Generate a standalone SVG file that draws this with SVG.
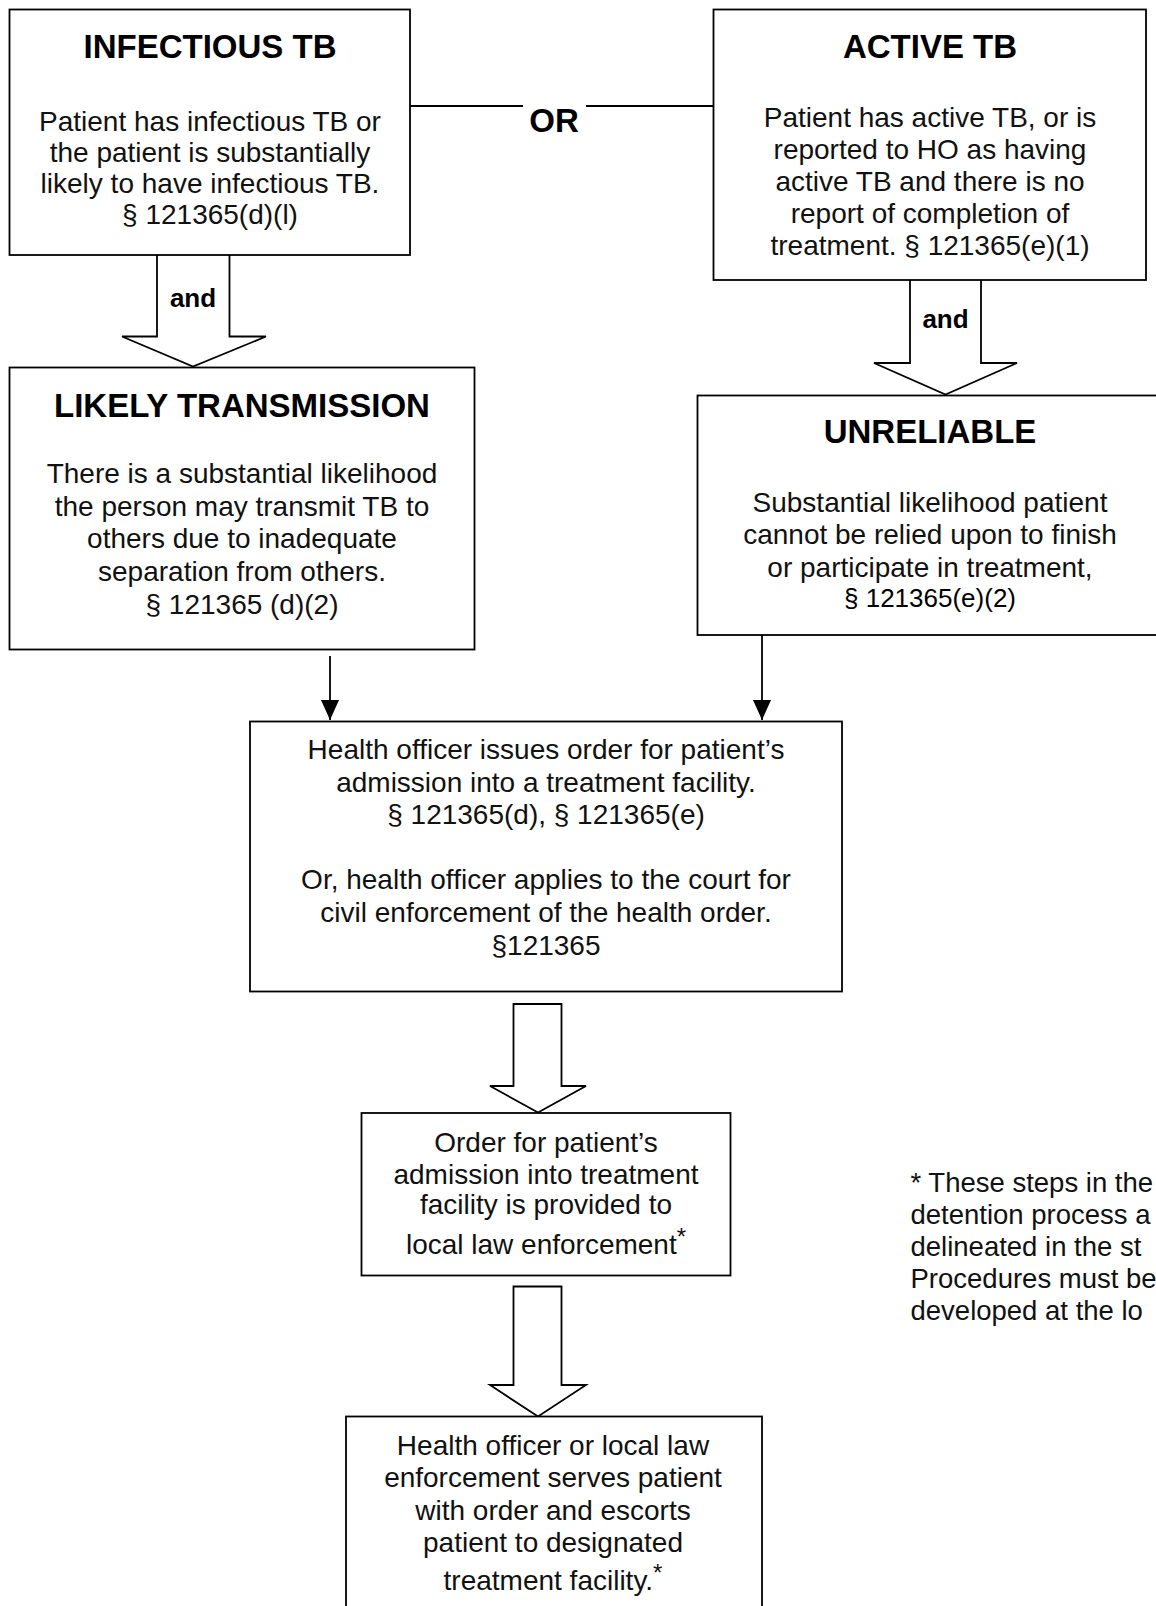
<svg xmlns="http://www.w3.org/2000/svg" width="1156" height="1606" viewBox="0 0 1156 1606">
<style>
.box{fill:#fff;stroke:#000;stroke-width:1.8}
.title{font-family:"Liberation Sans",Arial,sans-serif;font-weight:bold;font-size:33px;text-anchor:middle;fill:#000}
.body{font-family:"Liberation Sans",Arial,sans-serif;font-size:28px;text-anchor:middle;fill:#111}
.lbl{font-family:"Liberation Sans",Arial,sans-serif;font-weight:bold;font-size:26px;text-anchor:middle;fill:#000}
.note{font-family:"Liberation Sans",Arial,sans-serif;font-size:27.5px;fill:#111}
.line{fill:none;stroke:#000;stroke-width:1.8}
.big{fill:#fff;stroke:#000;stroke-width:1.8;stroke-linejoin:miter}
.sup{font-size:24px}
</style>
<defs>
<marker id="ah" markerUnits="userSpaceOnUse" markerWidth="22" markerHeight="18" refX="20" refY="9" orient="auto">
<path d="M0,0 L20,9 L0,18 Z" fill="#000"/>
</marker>
</defs>
<rect width="1156" height="1606" fill="#fff"/>

<g id="connectors">
<path class="line" d="M410,106 H523"/>
<path class="line" d="M586,106 H713.5"/>
<text class="title" x="554" y="132">OR</text>
<path class="big" d="M157,255 V336.5 H122 L193,366.5 L266,336.5 H229.5 V255"/>
<text class="lbl" x="193" y="307">and</text>
<path class="big" d="M910,280 V363 H874 L945.5,394.5 L1017,363 H981 V280"/>
<text class="lbl" x="945.5" y="328">and</text>
<path class="line" d="M330,656 V720" marker-end="url(#ah)"/>
<path class="line" d="M762,635 V720" marker-end="url(#ah)"/>
<path class="big" d="M513.5,1004 V1086 H490 L538,1112.5 L586,1086 H561.5 V1004 Z"/>
<path class="big" d="M513.5,1286.5 V1385 H490 L538,1416.5 L586,1385 H561.5 V1286.5 Z"/>
</g>

<g id="infectious">
<rect class="box" x="9.5" y="9.5" width="400.5" height="245.5"/>
<text class="title" x="210" y="58">INFECTIOUS TB</text>
<text class="body" x="210" y="131">Patient has infectious TB or</text>
<text class="body" x="210" y="162">the patient is substantially</text>
<text class="body" x="210" y="193">likely to have infectious TB.</text>
<text class="body" x="210" y="224">§ 121365(d)(l)</text>
</g>

<g id="active">
<rect class="box" x="713.5" y="9.5" width="432.5" height="270.5"/>
<text class="title" x="930" y="58">ACTIVE TB</text>
<text class="body" x="930" y="127">Patient has active TB, or is</text>
<text class="body" x="930" y="159">reported to HO as having</text>
<text class="body" x="930" y="191">active TB and there is no</text>
<text class="body" x="930" y="223">report of completion of</text>
<text class="body" x="930" y="255">treatment. § 121365(e)(1)</text>
</g>

<g id="likely">
<rect class="box" x="9.5" y="367.5" width="465" height="282"/>
<text class="title" x="242" y="417">LIKELY TRANSMISSION</text>
<text class="body" x="242" y="483">There is a substantial likelihood</text>
<text class="body" x="242" y="516">the person may transmit TB to</text>
<text class="body" x="242" y="548">others due to inadequate</text>
<text class="body" x="242" y="581">separation from others.</text>
<text class="body" x="242" y="614">§ 121365 (d)(2)</text>
</g>

<g id="unreliable">
<rect class="box" x="697.5" y="395.5" width="466" height="239.5"/>
<text class="title" x="930" y="443">UNRELIABLE</text>
<text class="body" x="930" y="512">Substantial likelihood patient</text>
<text class="body" x="930" y="544">cannot be relied upon to finish</text>
<text class="body" x="930" y="576.5">or participate in treatment,</text>
<text class="body" x="930" y="606.5" style="font-size:26px;fill:#000">§ 121365(e)(2)</text>
</g>

<g id="health-order">
<rect class="box" x="250" y="721.5" width="592" height="270"/>
<text class="body" x="546" y="759">Health officer issues order for patient’s</text>
<text class="body" x="546" y="791.5">admission into a treatment facility.</text>
<text class="body" x="546" y="824">§ 121365(d), § 121365(e)</text>
<text class="body" x="546" y="889">Or, health officer applies to the court for</text>
<text class="body" x="546" y="921.5">civil enforcement of the health order.</text>
<text class="body" x="546" y="954.5">§121365</text>
</g>

<g id="order-provided">
<rect class="box" x="361.5" y="1113" width="369" height="162.5"/>
<text class="body" x="546" y="1152">Order for patient’s</text>
<text class="body" x="546" y="1184">admission into treatment</text>
<text class="body" x="546" y="1214">facility is provided to</text>
<text class="body" x="546" y="1254">local law enforcement<tspan class="sup" dy="-9">*</tspan></text>
</g>

<g id="serve-escort">
<rect class="box" x="346" y="1416.5" width="416" height="220"/>
<text class="body" x="553" y="1455">Health officer or local law</text>
<text class="body" x="553" y="1487">enforcement serves patient</text>
<text class="body" x="553" y="1519.5">with order and escorts</text>
<text class="body" x="553" y="1552">patient to designated</text>
<text class="body" x="553" y="1590">treatment facility.<tspan class="sup" dy="-9">*</tspan></text>
</g>

<g id="footnote">
<text class="note" x="910.5" y="1192">* These steps in the</text>
<text class="note" x="910.5" y="1224">detention process a</text>
<text class="note" x="910.5" y="1256">delineated in the st</text>
<text class="note" x="910.5" y="1288">Procedures must be</text>
<text class="note" x="910.5" y="1320">developed at the lo</text>
</g>
</svg>
